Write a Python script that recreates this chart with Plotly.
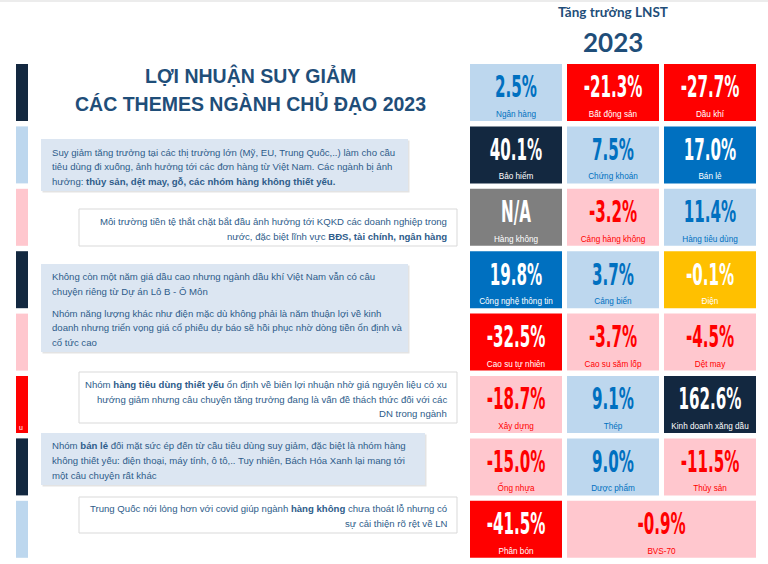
import plotly.graph_objects as go

# ---------------- data ----------------
values = ["2.5%", "-21.3%", "-27.7%",
          "40.1%", "7.5%", "17.0%",
          "N/A", "-3.2%", "11.4%",
          "19.8%", "3.7%", "-0.1%",
          "-32.5%", "-3.7%", "-4.5%",
          "-18.7%", "9.1%", "162.6%",
          "-15.0%", "9.0%", "-11.5%",
          "-41.5%", "-0.9%"]
sectors = ["Ngân hàng", "Bất động sản", "Dầu khí",
           "Bảo hiểm", "Chứng khoán", "Bán lẻ",
           "Hàng không", "Cảng hàng không", "Hàng tiêu dùng",
           "Công nghệ thông tin", "Cảng biển", "Điện",
           "Cao su tự nhiên", "Cao su săm lốp", "Dệt may",
           "Xây dựng", "Thép", "Kinh doanh xăng dầu",
           "Ống nhựa", "Dược phẩm", "Thủy sản",
           "Phân bón", "BVS-70"]
tones = ["lb", "red", "red",
         "navy", "lb", "blue",
         "gray", "pink", "lb",
         "blue", "lb", "amber",
         "red", "pink", "pink",
         "pink", "lb", "navy",
         "pink", "lb", "pink",
         "red", "pink"]
bar_tones = ["navy", "lb", "pink", "navy", "pink", "red", "navy", "lb"]

header_1 = "Tăng trưởng LNST"
header_2 = "2023"
title_lines = ["LỢI NHUẬN SUY GIẢM", "CÁC THEMES NGÀNH CHỦ ĐẠO 2023"]

notes = [
    ["Suy giảm tăng trưởng tại các thị trường lớn (Mỹ, EU, Trung Quốc,..) làm cho cầu",
     "tiêu dùng đi xuống, ảnh hưởng tới các đơn hàng từ Việt Nam. Các ngành bị ảnh",
     "hưởng: <b>thủy sản, dệt may, gỗ, các nhóm hàng không thiết yếu.</b>"],
    ["Môi trường tiền tệ thắt chặt bắt đầu ảnh hưởng tới KQKD các doanh nghiệp trong",
     "nước, đặc biệt lĩnh vực <b>BĐS, tài chính, ngân hàng</b>"],
    ["Không còn một năm giá dầu cao nhưng ngành dầu khí Việt Nam vẫn có câu",
     "chuyện riêng từ Dự án Lô B - Ô Môn",
     "Nhóm năng lượng khác như điện mặc dù không phải là năm thuận lợi về kinh",
     "doanh nhưng triển vọng giá cổ phiếu dự báo sẽ hồi phục nhờ dòng tiền ổn định và",
     "cổ tức cao"],
    ["Nhóm <b>hàng tiêu dùng thiết yếu</b> ổn định về biên lợi nhuận nhờ giá nguyên liệu có xu",
     "hướng giảm nhưng câu chuyện tăng trưởng đang là vấn đề thách thức đối với các",
     "DN trong ngành"],
    ["Nhóm <b>bán lẻ</b> đối mặt sức ép đến từ cầu tiêu dùng suy giảm, đặc biệt là nhóm hàng",
     "không thiết yếu: điện thoại, máy tính, ô tô,.. Tuy nhiên, Bách Hóa Xanh lại mang tới",
     "một câu chuyện rất khác"],
    ["Trung Quốc nới lỏng hơn với covid giúp ngành <b>hàng không</b> chưa thoát lỗ nhưng có",
     "sự cải thiện rõ rệt về LN"],
]

# ---------------- styles / layout ----------------
palette = {
    "lb": ("#bdd7ee", "#0070c0"),
    "red": ("#ff0000", "#ffffff"),
    "navy": ("#132840", "#ffffff"),
    "blue": ("#0070c0", "#ffffff"),
    "gray": ("#7f7f7f", "#ffffff"),
    "pink": ("#ffc7ce", "#ff0000"),
    "amber": ("#ffc000", "#ffffff"),
}
TITLE_C = "#1f4e79"
NOTE_C = "#2e5c8a"

X0, CW, CP = 470, 92, 97
Y0, RH, RP = 64, 57, 62.4

# note boxes: (x0, x1, y0, y1, style, align, line ys)
note_boxes = [
    (41, 408, 139, 191, "blue", "left", [152, 166.5, 181]),
    (79, 457, 209, 246, "white", "right", [221, 236]),
    (41, 408, 264, 352, "blue", "left", [276, 291, 313, 327.5, 342]),
    (79, 457, 372, 423, "white", "right", [384, 399, 413]),
    (41, 425, 433, 485, "blue", "left", [445, 460, 475]),
    (79, 457, 497, 533, "white", "right", [508, 523]),
]

fig = go.Figure()
shapes = []
annotations = []

# faint top band
shapes.append(dict(type="rect", xref="x", yref="y", x0=0, x1=768, y0=0, y1=2,
                   fillcolor="#ececec", line=dict(width=0), layer="below"))

# left side bars
for k, t in enumerate(bar_tones):
    y0 = Y0 + k * RP
    shapes.append(dict(type="rect", xref="x", yref="y", x0=16, x1=28, y0=y0, y1=y0 + RH,
                       fillcolor=palette[t][0], line=dict(width=0), layer="below"))
annotations.append(dict(x=17, y=Y0 + 5 * RP + 51, xref="x", yref="y", text="u",
                        showarrow=False, xanchor="left", yanchor="middle",
                        font=dict(family="Liberation Sans, Arial", size=7, color="#ffffff")))

# grid cells
vx, vy, vc, lx, ly, lc = [], [], [], [], [], []
for i, (v, s, t) in enumerate(zip(values, sectors, tones)):
    r, c = divmod(i, 3)
    span = 2 if i == len(values) - 1 else 1
    x0 = X0 + c * CP
    x1 = x0 + span * CW + (span - 1) * (CP - CW)
    y0 = Y0 + r * RP
    bg, fg = palette[t]
    shapes.append(dict(type="rect", xref="x", yref="y", x0=x0, x1=x1, y0=y0, y1=y0 + RH,
                       fillcolor=bg, line=dict(width=0), layer="below"))
    vx.append((x0 + x1) / 2); vy.append(y0 + 26); vc.append(fg)
    lx.append((x0 + x1) / 2); ly.append(y0 + 51); lc.append(fg)

fig.add_trace(go.Scatter(x=vx, y=vy, mode="text", text=values, hoverinfo="skip",
                         textfont=dict(family="DejaVu Sans Condensed, DejaVu Sans",
                                       size=30, color=vc, weight="bold")))
fig.add_trace(go.Scatter(x=lx, y=ly, mode="text", text=sectors, hoverinfo="skip",
                         textfont=dict(family="Liberation Sans, Arial", size=8.2, color=lc)))

# header
annotations.append(dict(x=613, y=12, xref="x", yref="y", text="<b>" + header_1 + "</b>",
                        showarrow=False, xanchor="center", yanchor="middle",
                        font=dict(family="Lato, Open Sans", size=13.5, color=TITLE_C)))
annotations.append(dict(x=613, y=42, xref="x", yref="y", text="<b>" + header_2 + "</b>",
                        showarrow=False, xanchor="center", yanchor="middle",
                        font=dict(family="Lato, Open Sans", size=26, color=TITLE_C)))

# title
for line, yy in zip(title_lines, [75, 103]):
    annotations.append(dict(x=250, y=yy, xref="x", yref="y", text="<b>" + line + "</b>",
                            showarrow=False, xanchor="center", yanchor="middle",
                            font=dict(family="Liberation Sans, Arial", size=19.5, color=TITLE_C)))

# note boxes
for (x0, x1, y0, y1, style, align, ys), lines in zip(note_boxes, notes):
    if style == "blue":
        shapes.append(dict(type="rect", xref="x", yref="y", x0=x0 + 1.5, x1=x1 + 1.5, y0=y0 + 1.5, y1=y1 + 1.5,
                           fillcolor="#e3e3e3", line=dict(width=0), layer="below"))
        shapes.append(dict(type="rect", xref="x", yref="y", x0=x0, x1=x1, y0=y0, y1=y1,
                           fillcolor="#dce6f2", line=dict(width=0), layer="below"))
    else:
        shapes.append(dict(type="rect", xref="x", yref="y", x0=x0, x1=x1, y0=y0, y1=y1,
                           fillcolor="#ffffff", line=dict(width=1, color="#d9d9d9"), layer="below"))
    tx = x0 + 9 if align == "left" else x1 - 8
    for line, yy in zip(lines, ys):
        annotations.append(dict(x=tx, y=yy, xref="x", yref="y", text=line,
                                showarrow=False, xanchor=align, yanchor="middle",
                                font=dict(family="Liberation Sans, Arial", size=9.6, color=NOTE_C)))

fig.update_layout(
    width=768, height=564,
    margin=dict(l=0, r=0, t=0, b=0),
    paper_bgcolor="#ffffff", plot_bgcolor="#ffffff",
    showlegend=False,
    xaxis=dict(range=[0, 768], visible=False, fixedrange=True),
    yaxis=dict(range=[564, 0], visible=False, fixedrange=True),
    shapes=shapes, annotations=annotations,
)

page_css = """
var st = document.createElement('style');
st.textContent = 'html,body{margin:0;padding:0;overflow:hidden;}' +
  '.scatterlayer .trace:first-child .textpoint text{transform-box:fill-box;transform-origin:center;transform:scaleX(0.56);}';
document.head.appendChild(st);
"""

fig.write_html("out.html", post_script=page_css, config={"displayModeBar": False})
